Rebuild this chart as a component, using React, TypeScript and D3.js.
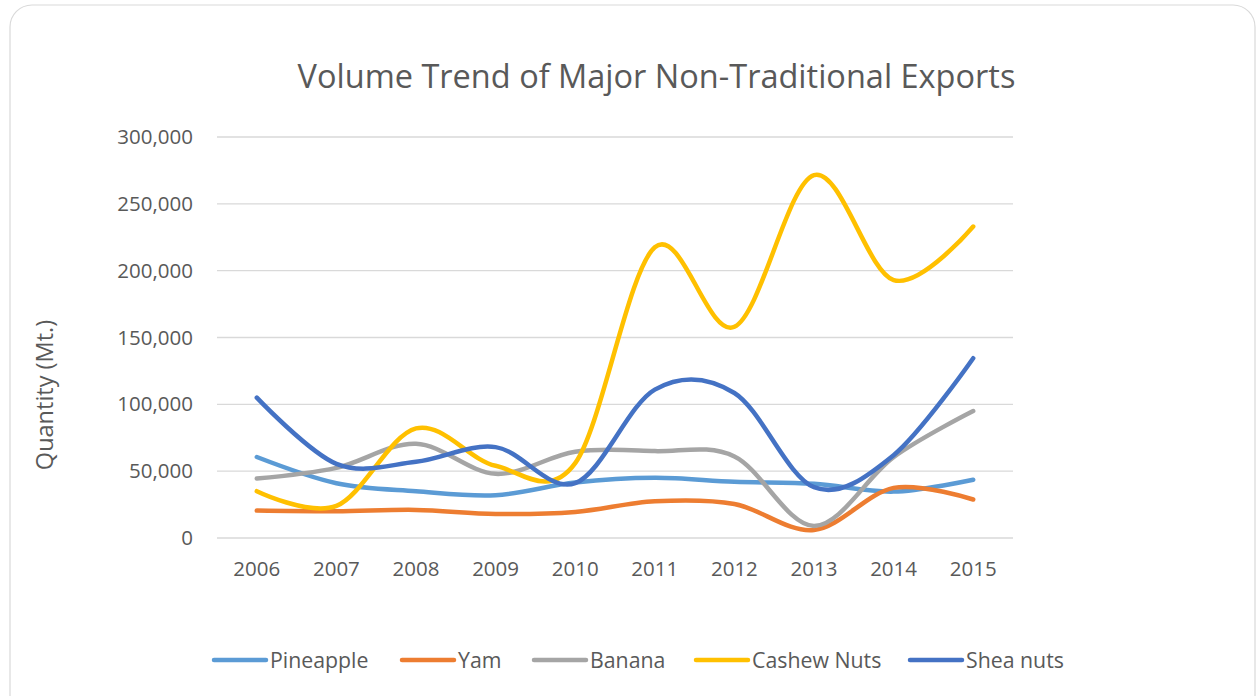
import React from "react";
import * as d3 from "d3";

const years = ["2006", "2007", "2008", "2009", "2010", "2011", "2012", "2013", "2014", "2015"];
const pineapple = [60600, 41000, 35000, 32000, 41500, 45000, 42000, 40500, 34700, 43600];
const yam = [20500, 20000, 21000, 18000, 19500, 27500, 25500, 6000, 37500, 28800];
const banana = [44500, 52500, 70500, 48000, 64500, 65000, 61000, 9000, 60500, 95000];
const cashew = [35000, 24000, 82000, 54000, 56000, 217500, 158000, 271500, 193000, 233000];
const shea = [105000, 55500, 57000, 68000, 41000, 111000, 108500, 38000, 62000, 134500];
const yTicks = [0, 50000, 100000, 150000, 200000, 250000, 300000];

const seriesNames = ["Pineapple", "Yam", "Banana", "Cashew Nuts", "Shea nuts"];
const seriesValues = [pineapple, yam, banana, cashew, shea];
const colors = ["#5B9BD5", "#ED7D31", "#A5A5A5", "#FFC000", "#4472C4"];

const W = 1258;
const H = 696;
const plotLeft = 217;
const plotRight = 1013;
const plotTop = 137;
const plotBottom = 538;
const font = "'Open Sans', sans-serif";
const textColor = "#595959";

export default function App() {
  const x = d3.scaleBand().domain(years).range([plotLeft, plotRight]);
  const y = d3.scaleLinear().domain([0, 300000]).range([plotBottom, plotTop]);
  const fmt = d3.format(",");
  const line = d3
    .line<number>()
    .x((_, i) => (x(years[i]) as number) + x.bandwidth() / 2)
    .y((d) => y(d))
    .curve(d3.curveCardinal.tension(0));

  const legendX = [214, 402, 534, 696, 910];

  return (
    <svg
      width={W}
      height={H}
      style={{ position: "absolute", left: 0, top: 0, background: "#fff" }}
    >
      <rect x={10} y={5} width={1245} height={720} rx={22} ry={22} fill="#fff" stroke="#d9d9d9" strokeWidth={1.2} />
      <text x={656.5} y={88} textAnchor="middle" fontFamily={font} fontSize={32.5} fill={textColor}>
        Volume Trend of Major Non-Traditional Exports
      </text>
      {yTicks.map((t) => (
        <g key={t}>
          <line x1={plotLeft} x2={plotRight} y1={y(t)} y2={y(t)} stroke="#d9d9d9" strokeWidth={1.3} />
          <text x={193} y={y(t) + 7} textAnchor="end" fontFamily={font} fontSize={20.5} fill={textColor}>
            {fmt(t)}
          </text>
        </g>
      ))}
      {years.map((yr) => (
        <text
          key={yr}
          x={(x(yr) as number) + x.bandwidth() / 2}
          y={576}
          textAnchor="middle"
          fontFamily={font}
          fontSize={20.5}
          fill={textColor}
        >
          {yr}
        </text>
      ))}
      <text
        transform={`translate(53,395) rotate(-90)`}
        textAnchor="middle"
        fontFamily={font}
        fontSize={23.5}
        fill={textColor}
      >
        Quantity (Mt.)
      </text>
      {seriesValues.map((vals, i) => (
        <path
          key={seriesNames[i]}
          d={line(vals) || ""}
          fill="none"
          stroke={colors[i]}
          strokeWidth={4.5}
          strokeLinecap="round"
          strokeLinejoin="round"
        />
      ))}
      {seriesNames.map((name, i) => (
        <g key={name}>
          <line
            x1={legendX[i]}
            x2={legendX[i] + 52}
            y1={660}
            y2={660}
            stroke={colors[i]}
            strokeWidth={4.5}
            strokeLinecap="round"
          />
          <text x={legendX[i] + 56} y={668} fontFamily={font} fontSize={21.3} fill={textColor}>
            {name}
          </text>
        </g>
      ))}
    </svg>
  );
}
